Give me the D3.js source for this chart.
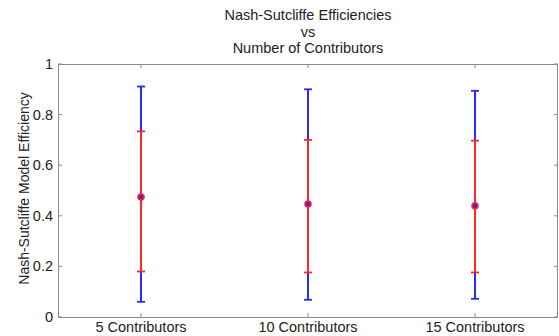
<!DOCTYPE html>
<html>
<head>
<meta charset="utf-8">
<script src="https://cdn.jsdelivr.net/npm/d3@7"></script>
<style>
  body { margin: 0; background: #fff; }
  svg { display: block; font-family: "Liberation Sans", Arial, sans-serif; }
</style>
</head>
<body>
<svg id="chart" width="559" height="336"></svg>
<script>
// data
const categories = ['5 Contributors', '10 Contributors', '15 Contributors'];
const means = [0.474, 0.447, 0.440];
const outer_low = [0.060, 0.068, 0.072];   // blue whiskers
const outer_high = [0.911, 0.900, 0.894];
const inner_low = [0.180, 0.176, 0.176];   // red whiskers
const inner_high = [0.734, 0.700, 0.697];
const y_ticks = [0, 0.2, 0.4, 0.6, 0.8, 1];
const title_lines = ['Nash-Sutcliffe Efficiencies', 'vs', 'Number of Contributors'];

const width = 559, height = 336;
const margin = { top: 64, right: 1, bottom: 19, left: 58 };
const plot_w = width - margin.left - margin.right;
const plot_h = height - margin.top - margin.bottom;

const svg = d3.select('#chart');
const g = svg.append('g').attr('transform', `translate(${margin.left},${margin.top})`);

const x = d3.scaleLinear().domain([0.5, 3.5]).range([0, plot_w]);
const y = d3.scaleLinear().domain([0, 1]).range([plot_h, 0]);
const axis_color = '#8a8a8a';
const font_size = 14.5;

// box
g.append('rect')
  .attr('x', 0.5).attr('y', 0.5)
  .attr('width', plot_w - 1).attr('height', plot_h)
  .attr('fill', 'none').attr('stroke', axis_color).attr('stroke-width', 1);

// y ticks (left inward + right inward)
y_ticks.forEach(t => {
  g.append('line').attr('x1', 0).attr('x2', 4).attr('y1', y(t)).attr('y2', y(t)).attr('stroke', axis_color);
  g.append('line').attr('x1', plot_w - 4).attr('x2', plot_w).attr('y1', y(t)).attr('y2', y(t)).attr('stroke', axis_color);
  g.append('text')
    .attr('x', -5).attr('y', y(t)).attr('dy', '0.35em')
    .attr('text-anchor', 'end').attr('font-size', font_size).attr('fill', '#222')
    .text(t === 0 || t === 1 ? t : t.toFixed(1));
});

// x ticks (bottom + top inward)
categories.forEach((c, i) => {
  const cx = Math.round(x(i + 1));
  g.append('line').attr('x1', cx).attr('x2', cx).attr('y1', plot_h).attr('y2', plot_h - 4).attr('stroke', axis_color);
  g.append('line').attr('x1', cx).attr('x2', cx).attr('y1', 0).attr('y2', 4).attr('stroke', axis_color);
  g.append('text')
    .attr('x', cx).attr('y', plot_h + 15)
    .attr('text-anchor', 'middle').attr('font-size', font_size).attr('fill', '#222')
    .text(c);
});

// error bars
const cap = 4;
function whisker(lo, hi, color) {
  categories.forEach((c, i) => {
    const cx = Math.round(x(i + 1));
    g.append('line').attr('x1', cx).attr('x2', cx).attr('y1', y(lo[i])).attr('y2', y(hi[i]))
      .attr('stroke', color).attr('stroke-width', 2);
    [lo[i], hi[i]].forEach(v => {
      g.append('line').attr('x1', cx - cap).attr('x2', cx + cap).attr('y1', y(v)).attr('y2', y(v))
        .attr('stroke', color).attr('stroke-width', 1.8);
    });
  });
}
whisker(outer_low, outer_high, '#2828ff');
whisker(inner_low, inner_high, '#ff2828');

// mean markers
g.selectAll('circle.mean')
  .data(means)
  .enter()
  .append('circle')
  .attr('class', 'mean')
  .attr('cx', (d, i) => Math.round(x(i + 1)))
  .attr('cy', d => y(d))
  .attr('r', 3)
  .attr('fill', '#5a2a9a')
  .attr('stroke', '#ff2040')
  .attr('stroke-width', 1.5);

// title
svg.append('text')
  .attr('x', margin.left + plot_w / 2).attr('y', 20)
  .attr('text-anchor', 'middle').attr('font-size', font_size).attr('fill', '#222')
  .selectAll('tspan')
  .data(title_lines)
  .enter()
  .append('tspan')
  .attr('x', margin.left + plot_w / 2)
  .attr('dy', (d, i) => i === 0 ? 0 : 16.5)
  .text(d => d);

// y label
svg.append('text')
  .attr('transform', `translate(29,${margin.top + plot_h / 2 - 2}) rotate(-90)`)
  .attr('text-anchor', 'middle').attr('font-size', 14).attr('fill', '#222')
  .text('Nash-Sutcliffe Model Efficiency');
</script>
</body>
</html>
